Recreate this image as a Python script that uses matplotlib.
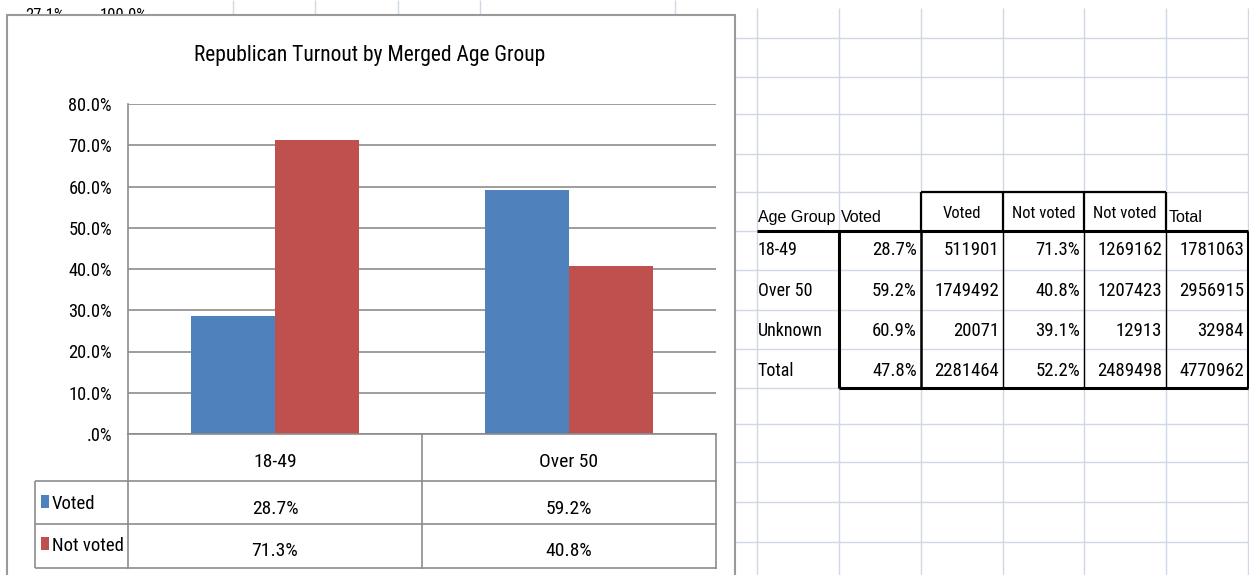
import matplotlib
matplotlib.use("Agg")
import matplotlib.pyplot as plt
from matplotlib import font_manager
from matplotlib.font_manager import FontProperties
from matplotlib.patches import Rectangle
from matplotlib.transforms import blended_transform_factory
import os

# chart data
title = "Republican Turnout by Merged Age Group"
categories = ["18-49", "Over 50"]
series = ["Voted", "Not voted"]
voted = [0.287, 0.592]
not_voted = [0.713, 0.408]
colors = ["#4f81bd", "#c0504d"]
yticks = [0.0, 0.1, 0.2, 0.3, 0.4, 0.5, 0.6, 0.7, 0.8]

# worksheet table next to the chart
header = ["Voted", "Not voted", "Not voted"]
age_groups = ["18-49", "Over 50", "Unknown", "Total"]
voted_pct = [0.287, 0.592, 0.609, 0.478]
voted_n = [511901, 1749492, 20071, 2281464]
not_pct = [0.713, 0.408, 0.391, 0.522]
not_n = [1269162, 1207423, 12913, 2489498]
totals = [1781063, 2956915, 32984, 4770962]

# narrow sans face, something like Arial Narrow
files = [f.fname for f in font_manager.fontManager.ttflist]
narrow_path = None
for key in ["LiberationSansNarrow-Regular", "RobotoCondensed-Regular", "DejaVuSansCondensed.ttf"]:
    hits = [p for p in files if key in os.path.basename(p)]
    if hits:
        narrow_path = hits[0]
        break

def NF(size):
    if narrow_path:
        return FontProperties(fname=narrow_path, size=size)
    return FontProperties(family="Liberation Sans", size=size * 0.85)

WIDE = "Liberation Sans"

def pct(v):
    s = f"{v * 100:.1f}%"
    return s[1:] if s.startswith("0") else s

fig = plt.figure(figsize=(12.49, 5.75), dpi=100)
bg = fig.add_axes([0, 0, 1, 1])
bg.set_xlim(0, 1249)
bg.set_ylim(575, 0)
bg.axis("off")

# spreadsheet grid
GRID = "#d0d7e5"
col_x = [757, 839, 921, 1003, 1084, 1166, 1248]
row_y = [38, 77, 114, 154, 192, 231, 270, 310, 349, 388, 424, 462, 502, 542]
for x in col_x:
    bg.vlines(x, 8, 575, color=GRID, lw=1.0, zorder=1)
for y in row_y:
    bg.hlines(y, 735, 1249, color=GRID, lw=1.0, zorder=1)
for x in [233, 315, 398, 480, 675]:
    bg.vlines(x, 0, 15, color=GRID, lw=1.0, zorder=1)

# cells peeking out above the chart
clip = Rectangle((0, 10), 735, 5, transform=bg.transData)
for x, s in [(25, "27.1%"), (100, "100.0%")]:
    t = bg.text(x, 20, s, fontproperties=NF(12), va="baseline", zorder=1)
    t.set_clip_path(clip)

# table on the sheet
bx = [839, 921, 1003, 1084, 1166, 1248]
bg.text(758, 222, "Age Group", fontsize=11.5, family=WIDE, va="baseline", zorder=3)
bg.text(841, 222, "Voted", fontsize=11.5, family=WIDE, va="baseline", zorder=3)
bg.text(1169, 222, "Total", fontsize=11.5, family=WIDE, va="baseline", zorder=3)
for i, h in enumerate(header):
    bg.text((bx[i + 1] + bx[i + 2]) / 2, 218, h, fontproperties=NF(12),
            ha="center", va="baseline", zorder=3)
rows_base = [255, 296, 336, 376]
for r, g in enumerate(age_groups):
    yb = rows_base[r]
    bg.text(758, yb, g, fontproperties=NF(13), va="baseline", zorder=3)
    vals = [pct(voted_pct[r]), str(voted_n[r]), pct(not_pct[r]), str(not_n[r]), str(totals[r])]
    for c, v in enumerate(vals):
        bg.text(bx[c + 1] - 4, yb, v, fontproperties=NF(13.5), ha="right",
                va="baseline", zorder=3)
K = "black"
bg.hlines(192, 921, 1166, color=K, lw=1.6, zorder=3)
for x in [921, 1003, 1084, 1166]:
    bg.vlines(x, 192, 231, color=K, lw=1.6, zorder=3)
bg.hlines(231, 757, 1248, color=K, lw=2.2, zorder=3)
bg.hlines(388, 839, 1248, color=K, lw=2.2, zorder=3)
bg.vlines(839, 231, 388, color=K, lw=2.2, zorder=3)
bg.vlines(1248, 231, 388, color=K, lw=2.2, zorder=3)
bg.vlines(921, 231, 388, color=K, lw=1.8, zorder=3)
for x in [1003, 1084, 1166]:
    bg.vlines(x, 231, 388, color=K, lw=1.0, zorder=3)

# chart area
bg.add_patch(Rectangle((7, 15), 728, 600, facecolor="white", edgecolor="#9a9a9a",
                       lw=1.5, zorder=2))
bg.text(370, 56, title, fontproperties=NF(15.5), ha="center", va="center", zorder=3)

L, R, T, B = 128, 716, 104, 434
ax = fig.add_axes([L / 1249, (575 - B) / 575, (R - L) / 1249, (B - T) / 575])
ax.patch.set_visible(False)
n = len(series)
w = 1 / (n + 1.5)
xs = list(range(len(categories)))
for i, (vals, col) in enumerate(zip([voted, not_voted], colors)):
    off = (i - (n - 1) / 2) * w
    ax.bar([x + off for x in xs], vals, w, color=col, zorder=2)
ax.set_xlim(-0.5, len(categories) - 0.5)
ax.set_ylim(0, 0.8)
ax.set_yticks(yticks)
ax.set_yticklabels([pct(v) for v in yticks])
for lab in ax.get_yticklabels():
    lab.set_fontproperties(NF(13.3))
ax.set_xticks([])
ax.yaxis.grid(True, color="#8c8c8c", lw=1.2)
ax.set_axisbelow(True)
ax.tick_params(axis="y", length=0, pad=11.5)
for s in ["top", "right"]:
    ax.spines[s].set_visible(False)
for s in ["left", "bottom"]:
    ax.spines[s].set_color("#8c8c8c")
    ax.spines[s].set_linewidth(1.2)

# data table under the plot
TC = "#8c8c8c"
tr = blended_transform_factory(ax.transData, bg.transData)
for x in [-0.5, 0.5, len(categories) - 0.5]:
    bg.plot([x, x], [B, 568], color=TC, lw=1.2, transform=tr, zorder=3, clip_on=False)
for y in [481, 524, 568]:
    bg.plot([-0.5, len(categories) - 0.5], [y, y], color=TC, lw=1.2, transform=tr,
            zorder=3, clip_on=False)
    bg.hlines(y, 35, L, color=TC, lw=1.2, zorder=3)
bg.vlines(35, 481, 568, color=TC, lw=1.2, zorder=3)
for i, c in enumerate(categories):
    bg.text(i, 467, c, transform=tr, fontproperties=NF(14), ha="center",
            va="baseline", zorder=4)
for r, (name, vals, col) in enumerate(zip(series, [voted, not_voted], colors)):
    yb = [514, 556][r]
    bg.add_patch(Rectangle((41, yb - 19), 8, 13, facecolor=col, zorder=4))
    bg.text(52, yb - 5, name, fontproperties=NF(13.5), va="baseline", zorder=4)
    for i, v in enumerate(vals):
        bg.text(i, yb, pct(v), transform=tr, fontproperties=NF(14), ha="center",
                va="baseline", zorder=4)

fig.savefig("out.png", dpi=100)
